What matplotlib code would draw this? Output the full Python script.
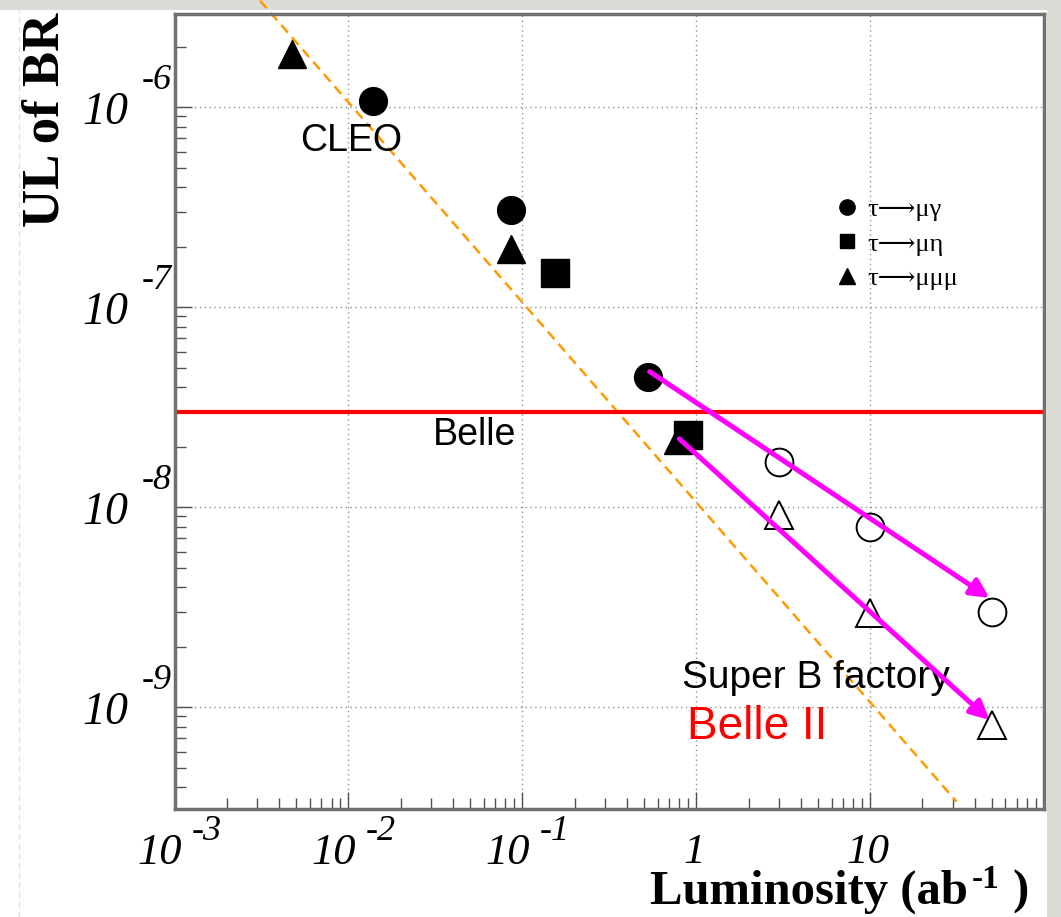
import matplotlib
matplotlib.use("Agg")
import matplotlib.pyplot as plt
from matplotlib.lines import Line2D
from matplotlib.patches import Rectangle
import numpy as np

plt.rcParams["font.family"] = ["Liberation Serif", "DejaVu Serif", "DejaVu Sans"]

# measured upper limits (filled) and projections (open), luminosity in ab^-1
lumi_mugamma = [0.0138, 0.0859, 0.526]
ul_mugamma = [1.075e-6, 3.07e-7, 4.48e-8]
lumi_mueta = [0.154, 0.893]
ul_mueta = [1.48e-7, 2.3e-8]
lumi_3mu = [0.00472, 0.0859, 0.783]
ul_3mu = [1.84e-6, 1.96e-7, 2.17e-8]

proj_lumi = [3.0, 10.0, 50.0]
proj_mugamma = [1.68e-8, 7.97e-9, 3.0e-9]
proj_3mu = [9.15e-9, 2.96e-9, 8.15e-10]

belle_limit = 3e-8

# 1/L scaling reference
scale_const = 1.06e-8
scale_lumi = [0.0031, 31.4]

arrow_start = [(0.54, 4.77e-8), (0.80, 2.2e-8)]
arrow_end = [(48.6, 3.52e-9), (48.6, 8.64e-10)]

xticks = [1e-3, 1e-2, 1e-1, 1, 10]
xexp = ["-3", "-2", "-1", None, None]
xplain = [None, None, None, "1", "10"]
yticks = [1e-6, 1e-7, 1e-8, 1e-9]
yexp = ["-6", "-7", "-8", "-9"]

W, H = 1061, 917
fig = plt.figure(figsize=(W / 100, H / 100), dpi=100)
fig.patch.set_facecolor("#dcdcd6")
fig.add_artist(Rectangle((0, 0), 1047 / W, 907 / H, transform=fig.transFigure,
                         facecolor="white", edgecolor="none", zorder=-2))
fig.add_artist(Line2D([19 / W, 19 / W], [0, 907 / H], transform=fig.transFigure,
                      color="#e0e0e0", lw=1, ls=(0, (4, 3)), zorder=-1))

ax = fig.add_axes([174.5 / W, 1 - 809 / H, 869.5 / W, 795 / H])
ax.set_xscale("log")
ax.set_yscale("log")
ax.set_xlim(1e-3, 1e2)
ax.set_ylim(10 ** -9.5085, 10 ** -5.5335)

for s in ax.spines.values():
    s.set_color("#707070")
    s.set_linewidth(2.5)
ax.tick_params(which="both", direction="in", color="#505050", width=1,
               top=False, right=False, labelbottom=False, labelleft=False)
ax.tick_params(which="major", length=12)
ax.tick_params(which="minor", length=8)
ax.set_xticks(xticks)
ax.set_yticks(yticks)
ax.grid(which="major", color="#909090", ls=(0, (1, 2.5)), lw=1)

# orange 1/L line
lx = np.array(scale_lumi)
ax.plot(lx, scale_const / lx, color="#ff9a00", ls=(0, (4, 2.5)), lw=1.8,
        clip_on=False, zorder=2)

ax.axhline(belle_limit, color="red", lw=3, zorder=2)

ms = 20
ax.plot(lumi_mugamma, ul_mugamma, "o", color="black", ms=ms, ls="none", zorder=3)
ax.plot(lumi_3mu, ul_3mu, "^", color="black", ms=ms, ls="none", zorder=3)
ax.plot(lumi_mueta, ul_mueta, "s", color="black", ms=ms, ls="none", zorder=3)
ax.plot(proj_lumi, proj_mugamma, "o", mfc="white", mec="black", mew=1.4,
        ms=ms, ls="none", zorder=3)
ax.plot(proj_lumi, proj_3mu, "^", mfc="white", mec="black", mew=1.4,
        ms=ms, ls="none", zorder=3)

for (x0, y0), (x1, y1) in zip(arrow_start, arrow_end):
    ax.annotate("", xy=(x1, y1), xytext=(x0, y0),
                arrowprops=dict(arrowstyle="-|>", color="#ff00ff", lw=3.6,
                                mutation_scale=28, shrinkA=0, shrinkB=0),
                zorder=4)

sans = "Liberation Sans"
ax.text(0.01033, 6.78e-7, "CLEO", family=sans, fontsize=27, ha="center", va="center")
ax.text(0.0306, 2.3e-8, "Belle", family=sans, fontsize=27, ha="left", va="center")
ax.text(0.825, 1.4e-9, "Super B factory", family=sans, fontsize=28, ha="left", va="center")
ax.text(0.882, 7.97e-10, "Belle II", family=sans, fontsize=33, color="red",
        ha="left", va="center")

handles = [
    Line2D([], [], marker="o", color="black", ls="none", ms=11),
    Line2D([], [], marker="s", color="black", ls="none", ms=10),
    Line2D([], [], marker="^", color="black", ls="none", ms=11),
]
labels = ["τ⟶μγ", "τ⟶μη", "τ⟶μμμ"]
ax.legend(handles, labels, loc="upper left", bbox_to_anchor=(0.765, 0.769),
          frameon=False, fontsize=19, handlelength=0.55, handletextpad=0.5,
          labelspacing=0.42, borderpad=0, borderaxespad=0)

# tick labels in the "10 ^ exponent" style
tfont = dict(family="Liberation Serif", style="italic")
for xv, e, p in zip(xticks, xexp, xplain):
    if e is not None:
        ax.annotate("10", xy=(xv, 0), xycoords=("data", "axes fraction"),
                    xytext=(7.5, -44), textcoords="offset pixels",
                    ha="right", va="center", fontsize=32, **tfont)
        ax.annotate(e, xy=(xv, 0), xycoords=("data", "axes fraction"),
                    xytext=(17, -23), textcoords="offset pixels",
                    ha="left", va="center", fontsize=26, **tfont)
    else:
        ax.annotate(p, xy=(xv, 0), xycoords=("data", "axes fraction"),
                    xytext=(-2, -44), textcoords="offset pixels",
                    ha="center", va="center", fontsize=31, **tfont)
for yv, e in zip(yticks, yexp):
    ax.annotate("10", xy=(0, yv), xycoords=("axes fraction", "data"),
                xytext=(-46, -5), textcoords="offset pixels",
                ha="right", va="center", fontsize=33, **tfont)
    ax.annotate(e, xy=(0, yv), xycoords=("axes fraction", "data"),
                xytext=(-33, 27), textcoords="offset pixels",
                ha="left", va="center", fontsize=26, **tfont)

fig.text(46 / W, 1 - 120 / H, "UL of BR", rotation=90, fontsize=38,
         fontweight="bold", ha="center", va="center")
fig.text(968 / W, 1 - 904 / H, "Luminosity (ab", fontsize=35, fontweight="bold",
         ha="right", va="baseline")
fig.text(972 / W, 1 - 880 / H, "-1", fontsize=24, fontweight="bold",
         ha="left", va="center")
fig.text(1012 / W, 1 - 904 / H, ")", fontsize=35, fontweight="bold",
         ha="left", va="baseline")

fig.savefig("out.png", dpi=100, facecolor=fig.get_facecolor())
